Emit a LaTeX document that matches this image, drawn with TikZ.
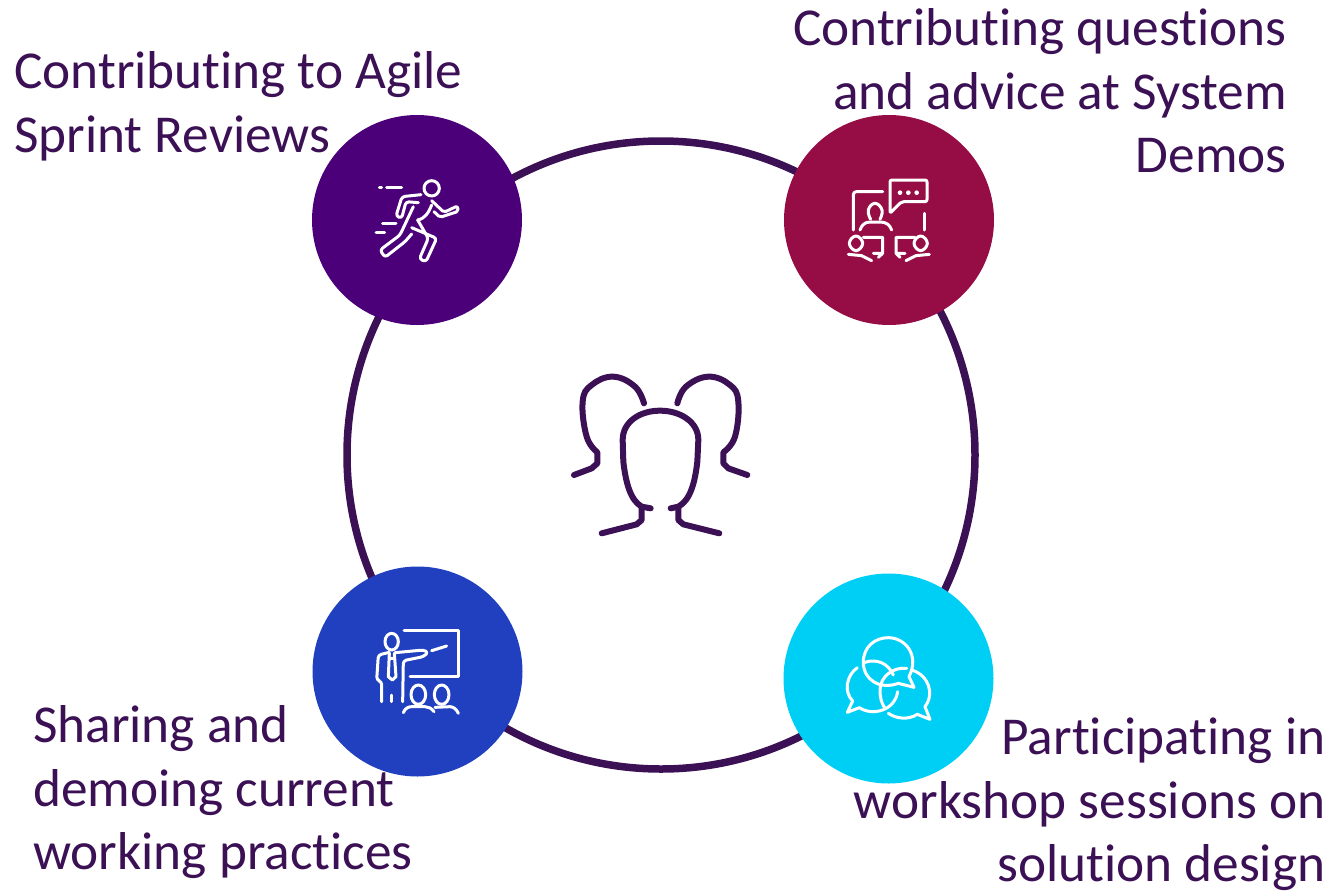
\documentclass[tikz,border=0pt]{standalone}
\usepackage{fontspec}
\setmainfont{Carlito}[Ligatures=NoCommon]
\definecolor{inkpurple}{HTML}{3B1055}
\definecolor{runpurple}{HTML}{4B0079}
\definecolor{demored}{HTML}{960C45}
\definecolor{shareblue}{HTML}{2040C0}
\definecolor{workcyan}{HTML}{00CFF5}
\tikzset{
    ring-line/.style = {draw=inkpurple, line width=7.5pt, circle, inner sep=0pt, minimum size=628pt},
    badge/.style = {circle, inner sep=0pt, minimum size=210pt},
    caption/.style = {text=inkpurple, inner sep=0pt, font=\fontsize{53.3}{63.5}\selectfont},
    icon/.style = {draw=white, line width=3pt, line cap=round, line join=round},
    heads/.style = {draw=inkpurple, line width=6pt, line cap=round, line join=round},
}
\begin{document}
\begin{tikzpicture}[x=1pt, y=-1pt]
\useasboundingbox (0,0) rectangle (1331,892);
\node [ring-line] (ring) at (661,455) {};
\node [badge, fill=runpurple] (agile) at (417,220) {};
\node [badge, fill=demored] (demos) at (889,220) {};
\node [badge, fill=shareblue] (share) at (417.5,671.5) {};
\node [badge, fill=workcyan] (work) at (888.5,678.5) {};
\node [caption, anchor=north west, align=left] (agile-text) at (14,51.5) {Contributing to Agile\\Sprint Reviews};
\node [caption, anchor=north east, align=right] (demos-text) at (1287,8.5) {Contributing questions\\and advice at System\\Demos};
\node [caption, anchor=north west, align=left] (share-text) at (33,705.5) {Sharing and\\demoing current\\working practices};
\node [caption, anchor=north east, align=right] (work-text) at (1325.5,718) {Participating in\\workshop sessions on\\solution design};
% people in the middle
\begin{scope}[shift={(560,365)}, scale=1/3]
\draw [heads] plot [smooth, tension=0.7] coordinates {(252,115) (225,65) (160,35) (95,60) (68,110) (80,215) (112,262)} -- (112,295) -- (95,310) -- (42,330);
\draw [heads] plot [smooth, tension=0.7] coordinates {(352,115) (378,65) (445,35) (510,60) (535,110) (525,215) (490,262)} -- (490,295) -- (505,310) -- (562,330);
\draw [heads] (272,430) -- (245,425) .. controls (210,405) and (197,350) .. (190,290) -- (188,225) .. controls (188,170) and (240,137) .. (300,137) .. controls (360,137) and (415,170) .. (415,225) -- (412,290) .. controls (405,350) and (392,405) .. (355,425) -- (332,430);
\draw [heads] (245,425) -- (245,465) -- (230,478) -- (125,505);
\draw [heads] (355,425) -- (355,465) -- (370,478) -- (478,505);
\end{scope}
% runner
\begin{scope}[shift={(350,160)}, scale=1/3]
\draw [icon] (245,85) circle [radius=23];
\draw [icon] (88,83) -- (95,83) (110,83) -- (155,83) (98,190) -- (138,190) (78,217) -- (104,217);
\draw [icon, rounded corners=3pt] (213,104) -- (156,110) -- (138,168) -- (155,175) -- (168,125) -- (205,128);
\draw [icon, rounded corners=2pt] (245,122) -- (282,157) -- (322,138) -- (325,154) -- (270,172) -- (252,155);
\draw [icon] (245,135) .. controls (235,160) and (225,175) .. (203,180);
\draw [icon, rounded corners=3pt] (190,140) -- (150,225) -- (90,270) -- (105,292) -- (165,245) -- (185,222);
\draw [icon, rounded corners=3pt] (185,203) -- (260,235) -- (228,305) -- (208,297) -- (235,235) -- (203,180);
\end{scope}
% meeting
\begin{scope}[shift={(830,160)}, scale=1/3]
\draw [icon, rounded corners=2pt] (180,60) -- (291,60) -- (291,125) -- (215,125) -- (180,160) -- cycle;
\foreach \dotx in {210,235,260} {\fill [white] (\dotx,98) circle [radius=7];}
\draw [icon, rounded corners=3pt] (158,95) -- (70,95) -- (70,210);
\draw [icon] (283,160) -- (283,210);
\draw [icon] plot [smooth, tension=0.8] coordinates {(122,178) (115,150) (135,130) (156,150) (150,178)};
\draw [icon] (90,210) .. controls (95,195) and (105,186) .. (120,186) -- (152,186) .. controls (168,186) and (180,195) .. (185,210);
\draw [icon] plot [smooth cycle, tension=0.8] coordinates {(58,250) (78,228) (98,250) (78,272)};
\draw [icon] (55,283) -- (95,287) -- (125,302);
\draw [icon] (100,232) -- (158,232) -- (158,280) -- (130,280) (158,280) -- (145,292);
\draw [icon] plot [smooth cycle, tension=0.8] coordinates {(252,250) (272,228) (292,250) (272,272)};
\draw [icon] (298,283) -- (258,287) -- (228,302);
\draw [icon] (255,232) -- (198,232) -- (198,280) -- (225,280) (198,280) -- (210,292);
\end{scope}
% presenter
\begin{scope}[shift={(360,620)}, scale=1/3]
\draw [icon] (132,32) -- (295,32) -- (295,170) -- (150,170);
\draw [icon] (95,65) ellipse [x radius=20, y radius=25];
\draw [icon] (215,92) -- (260,78);
\draw [icon, rounded corners=3pt] (88,97) -- (55,105) -- (50,180) -- (65,185) -- (65,245);
\draw [icon, rounded corners=3pt] (105,98) -- (190,90) -- (205,97) -- (190,110) -- (130,122) -- (128,245);
\draw [icon] (88,100) -- (85,170) -- (97,180) -- (108,170) -- (103,100) (88,115) -- (103,115);
\draw [icon] (95,225) -- (95,245);
\draw [icon] (175,224) ellipse [x radius=22, y radius=29];
\draw [icon] (245,224) ellipse [x radius=22, y radius=29];
\draw [icon] (130,278) .. controls (135,265) and (145,260) .. (155,260) -- (195,260) .. controls (205,260) and (215,265) .. (222,275);
\draw [icon] (225,262) -- (270,260) .. controls (280,260) and (290,268) .. (295,280);
\end{scope}
% speech bubbles
\begin{scope}[shift={(830,625)}, scale=1/3]
\draw [icon] (205,175) .. controls (150,195) and (100,165) .. (100,112) .. controls (100,65) and (135,38) .. (175,38) .. controls (225,38) and (270,90) .. (237,155) -- (252,187) -- cycle;
\draw [icon] (82,128) .. controls (50,150) and (40,200) .. (68,228) -- (52,262) -- (88,248) .. controls (130,275) and (195,255) .. (203,200);
\draw [icon] (105,112) .. controls (140,100) and (175,115) .. (190,150);
\draw [icon] (230,130) .. controls (190,125) and (150,155) .. (150,195) .. controls (150,220) and (155,235) .. (165,250);
\draw [icon] (245,135) .. controls (295,150) and (315,205) .. (285,245) -- (300,283) -- (262,268) .. controls (235,285) and (200,282) .. (175,265);
\end{scope}
\end{tikzpicture}
\end{document}
